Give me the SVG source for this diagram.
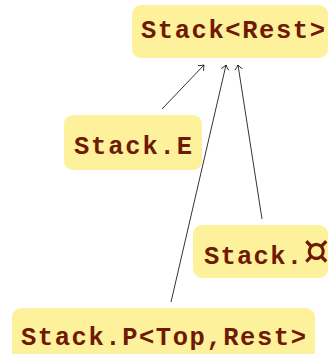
<svg xmlns="http://www.w3.org/2000/svg" width="330" height="354" viewBox="0 0 330 354">
  <style>
    .box { fill: #fdf19c; }
    .lbl { font-family: "Liberation Mono", "DejaVu Sans Mono", monospace; font-weight: bold; font-size: 25.5px; fill: #6e1a04; }
    .cur { font-family: "DejaVu Sans Mono", monospace; font-weight: normal; font-size: 51px; fill: #6e1a04; }
    .edge { stroke: #000; stroke-width: 0.8; fill: none; marker-end: url(#tip); }
  </style>
  <defs>
    <marker id="tip" markerUnits="userSpaceOnUse" markerWidth="12" markerHeight="12" refX="6" refY="6" orient="auto">
      <path d="M1.5,2.2 Q4,4.8 6,6 Q4,7.2 1.5,9.8" fill="none" stroke="#000" stroke-width="0.8"/>
    </marker>
  </defs>
  <rect width="330" height="354" fill="#fff"/>

  <g id="edges">
    <line class="edge" x1="162" y1="109" x2="204" y2="65"/>
    <line class="edge" x1="171" y1="302" x2="226" y2="65"/>
    <line class="edge" x1="262" y1="219" x2="238" y2="65"/>
  </g>

  <g id="stack-rest">
    <rect class="box" x="132" y="5" width="196" height="53" rx="9"/>
    <text class="lbl" x="141" y="38" textLength="184" lengthAdjust="spacing">Stack&lt;Rest&gt;</text>
  </g>

  <g id="stack-e">
    <rect class="box" x="64" y="115" width="138" height="55" rx="9"/>
    <text class="lbl" x="74" y="154" textLength="118" lengthAdjust="spacing">Stack.E</text>
  </g>

  <g id="stack-cur">
    <rect class="box" x="193" y="225" width="135" height="53" rx="9"/>
    <text class="lbl" x="204" y="264" textLength="98" lengthAdjust="spacing">Stack.</text>
    <text class="cur" x="300" y="268">¤</text>
  </g>

  <g id="stack-p">
    <rect class="box" x="12" y="308" width="303" height="56" rx="9"/>
    <text class="lbl" x="21" y="345" textLength="285" lengthAdjust="spacing">Stack.P&lt;Top,Rest&gt;</text>
  </g>
</svg>
